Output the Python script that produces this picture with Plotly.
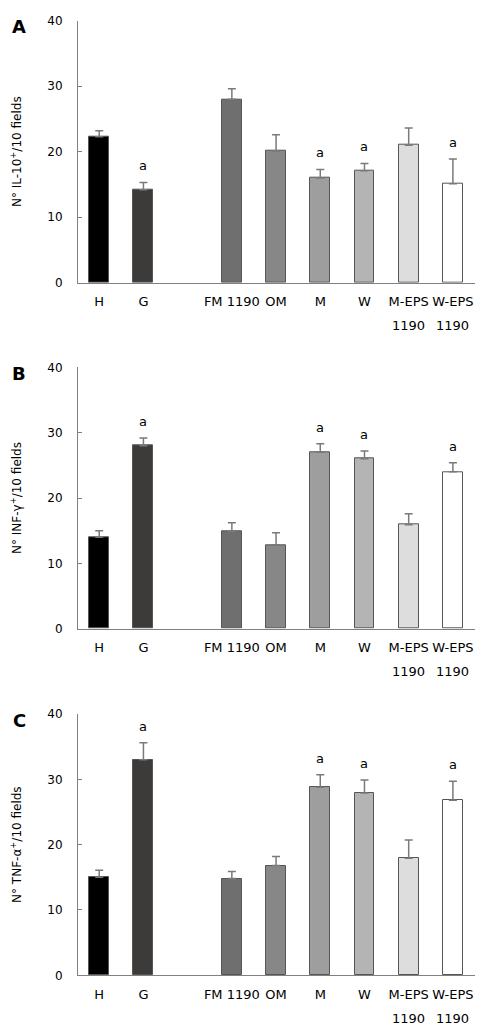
import plotly.graph_objects as go

categories = ["H", "G", "FM 1190", "OM", "M", "W", "M-EPS", "W-EPS"]
second_line = ["", "", "", "", "", "", "1190", "1190"]
positions = [0, 1, 3, 4, 5, 6, 7, 8]
bar_colors = ["#000000", "#3d3a3a", "#6f6f6f", "#878787", "#9e9e9e", "#b4b4b4", "#dcdddc", "#ffffff"]

il10_values = [22.3, 14.2, 28.0, 20.1, 16.0, 17.1, 21.0, 15.1]
il10_errors = [0.9, 1.1, 1.6, 2.5, 1.3, 1.1, 2.6, 3.8]
ifng_values = [14.0, 28.0, 14.9, 12.8, 27.0, 26.0, 15.9, 24.0]
ifng_errors = [1.0, 1.2, 1.3, 1.9, 1.3, 1.2, 1.7, 1.4]
tnfa_values = [15.0, 33.0, 14.8, 16.8, 28.8, 27.9, 17.9, 26.8]
tnfa_errors = [1.1, 2.6, 1.1, 1.4, 1.9, 2.0, 2.8, 2.9]

significant = [False, True, False, False, True, True, False, True]

y_ticks = [0, 10, 20, 30, 40]

panels = [
    ("A", "N° IL-10<sup>+</sup>/10 fields", il10_values, il10_errors),
    ("B", "N° INF-γ<sup>+</sup>/10 fields", ifng_values, ifng_errors),
    ("C", "N° TNF-α<sup>+</sup>/10 fields", tnfa_values, tnfa_errors),
]

# page body has an 8px margin: the figure is drawn offset by 8px
OFF = 8
W, H = 494 - OFF, 1034 - OFF
# pixel layout of plot areas in the window (top, bottom)
panel_px = [(20.7, 282.7), (367.3, 628.7), (714.0, 975.3)]
x_px = (78, 475)

FONT = "DejaVu Sans, Verdana, sans-serif"

fig = go.Figure()
layout = dict(
    width=W, height=H,
    margin=dict(l=0, r=0, t=0, b=0, autoexpand=False),
    paper_bgcolor="white", plot_bgcolor="white",
    showlegend=False,
    font=dict(family=FONT, color="#000000"),
    bargap=0,
)
annotations = []

for i, (letter, title, vals, errs) in enumerate(panels):
    n = "" if i == 0 else str(i + 1)
    xa = "x" + n
    ya = "y" + n
    fig.add_trace(go.Bar(
        x=positions, y=vals, width=0.45,
        marker=dict(color=bar_colors, line=dict(color="#555555", width=1)),
        error_y=dict(type="data", array=errs, arrayminus=[0] * len(errs), symmetric=False,
                     color="#7a7a7a", thickness=1.5, width=4),
        xaxis=xa, yaxis=ya, hoverinfo="skip",
    ))
    top, bot = panel_px[i]
    top -= OFF
    bot -= OFF
    layout["xaxis" + n] = dict(
        domain=[(x_px[0] - OFF) / W, (x_px[1] - OFF) / W],
        anchor=ya, range=[-0.48, 8.5], automargin=False,
        tickvals=positions, ticktext=categories,
        showgrid=False, zeroline=False, showline=True, linecolor="#808080", linewidth=1,
        ticks="", ticklabelstandoff=7,
        tickfont=dict(family=FONT, size=13, color="#000000"),
        fixedrange=True,
    )
    layout["yaxis" + n] = dict(
        domain=[1 - bot / H, 1 - top / H],
        anchor=xa, range=[0, 40], automargin=False,
        tickvals=y_ticks,
        showgrid=False, zeroline=False, showline=True, linecolor="#808080", linewidth=1,
        ticks="inside", ticklen=4, tickcolor="#808080", tickwidth=1,
        ticklabelstandoff=12,
        tickfont=dict(family=FONT, size=12, color="#000000"),
        title=dict(text=title, font=dict(family=FONT, size=12, color="#000000"), standoff=24),
        fixedrange=True,
    )
    for p, v, e, s in zip(positions, vals, errs, significant):
        if s:
            annotations.append(dict(
                x=p, y=v + e, xref=xa, yref=ya, text="a", showarrow=False,
                yanchor="bottom", yshift=7,
                font=dict(family=FONT, size=13, color="#000000"),
            ))
    for p, t in zip(positions, second_line):
        if t:
            annotations.append(dict(
                x=p, y=0, xref=xa, yref=ya, text=t, showarrow=False,
                yanchor="middle", yshift=-43,
                font=dict(family=FONT, size=13, color="#000000"),
            ))
    annotations.append(dict(
        x=(19 - OFF) / W, y=1 - (top + 6) / H, xref="paper", yref="paper", text="<b>" + letter + "</b>",
        showarrow=False, xanchor="center", yanchor="middle",
        font=dict(family=FONT, size=18, color="#000000"),
    ))

layout["annotations"] = annotations
fig.update_layout(**layout)
fig.write_html("out.html")
